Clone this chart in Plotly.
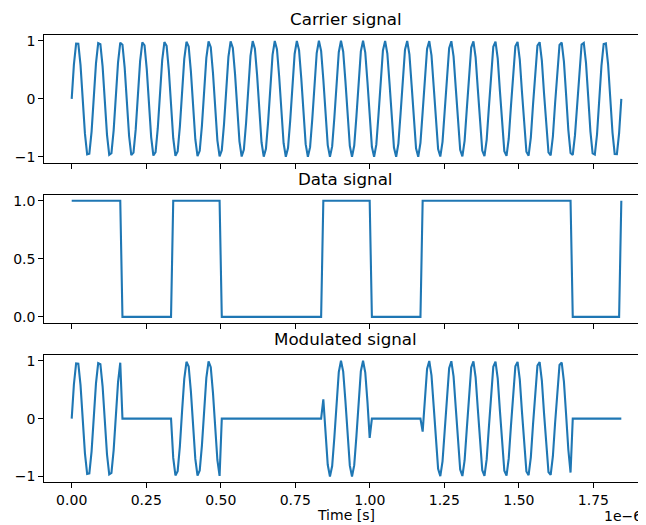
import numpy as np
import plotly.graph_objects as go

# ---------------- data ----------------
t_start = 0.0
t_end = 1.8437e-6
n_samples = 250

panel_titles = ["Carrier signal", "Data signal", "Modulated signal"]

# carrier samples, 10 per row
carrier_rows = [
    [0.000, 0.590, 0.953, 0.949, 0.580, -0.013, -0.600, -0.956, -0.945, -0.569],
    [0.025, 0.610, 0.960, 0.940, 0.559, -0.038, -0.620, -0.963, -0.936, -0.548],
    [0.050, 0.630, 0.967, 0.932, 0.538, -0.063, -0.640, -0.970, -0.927, -0.527],
    [0.076, 0.649, 0.973, 0.922, 0.516, -0.088, -0.659, -0.976, -0.917, -0.506],
    [0.101, 0.668, 0.978, 0.912, 0.495, -0.113, -0.678, -0.981, -0.907, -0.484],
    [0.126, 0.687, 0.983, 0.901, 0.472, -0.138, -0.696, -0.986, -0.896, -0.461],
    [0.151, 0.705, 0.988, 0.890, 0.450, -0.163, -0.714, -0.990, -0.884, -0.439],
    [0.176, 0.723, 0.991, 0.878, 0.427, -0.188, -0.731, -0.993, -0.872, -0.416],
    [0.201, 0.740, 0.994, 0.866, 0.404, -0.213, -0.748, -0.996, -0.860, -0.393],
    [0.225, 0.757, 0.997, 0.853, 0.381, -0.237, -0.765, -0.998, -0.847, -0.370],
    [0.250, 0.773, 0.998, 0.840, 0.358, -0.262, -0.781, -0.999, -0.833, -0.346],
    [0.274, 0.789, 1.000, 0.826, 0.334, -0.286, -0.797, -1.000, -0.819, -0.322],
    [0.298, 0.804, 1.000, 0.812, 0.310, -0.310, -0.812, -1.000, -0.804, -0.298],
    [0.322, 0.819, 1.000, 0.797, 0.286, -0.334, -0.826, -1.000, -0.789, -0.274],
    [0.346, 0.833, 0.999, 0.781, 0.262, -0.358, -0.840, -0.998, -0.773, -0.250],
    [0.370, 0.847, 0.998, 0.765, 0.237, -0.381, -0.853, -0.997, -0.757, -0.225],
    [0.393, 0.860, 0.996, 0.748, 0.213, -0.404, -0.866, -0.994, -0.740, -0.201],
    [0.416, 0.872, 0.993, 0.731, 0.188, -0.427, -0.878, -0.991, -0.723, -0.176],
    [0.439, 0.884, 0.990, 0.714, 0.163, -0.450, -0.890, -0.988, -0.705, -0.151],
    [0.461, 0.896, 0.986, 0.696, 0.138, -0.472, -0.901, -0.983, -0.687, -0.126],
    [0.484, 0.907, 0.981, 0.678, 0.113, -0.495, -0.912, -0.978, -0.668, -0.101],
    [0.506, 0.917, 0.976, 0.659, 0.088, -0.516, -0.922, -0.973, -0.649, -0.076],
    [0.527, 0.927, 0.970, 0.640, 0.063, -0.538, -0.932, -0.967, -0.630, -0.050],
    [0.548, 0.936, 0.963, 0.620, 0.038, -0.559, -0.940, -0.960, -0.610, -0.025],
    [0.569, 0.945, 0.956, 0.600, 0.013, -0.580, -0.949, -0.953, -0.590, 0.000],
]

# data signal samples, 10 per row
data_rows = [
    [1, 1, 1, 1, 1, 1, 1, 1, 1, 1],
    [1, 1, 1, 1, 1, 1, 1, 1, 1, 1],
    [1, 1, 1, 0, 0, 0, 0, 0, 0, 0],
    [0, 0, 0, 0, 0, 0, 0, 0, 0, 0],
    [0, 0, 0, 0, 0, 0, 1, 1, 1, 1],
    [1, 1, 1, 1, 1, 1, 1, 1, 1, 1],
    [1, 1, 1, 1, 1, 1, 1, 1, 0, 0],
    [0, 0, 0, 0, 0, 0, 0, 0, 0, 0],
    [0, 0, 0, 0, 0, 0, 0, 0, 0, 0],
    [0, 0, 0, 0, 0, 0, 0, 0, 0, 0],
    [0, 0, 0, 0, 0, 0, 0, 0, 0, 0],
    [0, 0, 0, 0, 1, 1, 1, 1, 1, 1],
    [1, 1, 1, 1, 1, 1, 1, 1, 1, 1],
    [1, 1, 1, 1, 1, 1, 0, 0, 0, 0],
    [0, 0, 0, 0, 0, 0, 0, 0, 0, 0],
    [0, 0, 0, 0, 0, 0, 0, 0, 0, 1],
    [1, 1, 1, 1, 1, 1, 1, 1, 1, 1],
    [1, 1, 1, 1, 1, 1, 1, 1, 1, 1],
    [1, 1, 1, 1, 1, 1, 1, 1, 1, 1],
    [1, 1, 1, 1, 1, 1, 1, 1, 1, 1],
    [1, 1, 1, 1, 1, 1, 1, 1, 1, 1],
    [1, 1, 1, 1, 1, 1, 1, 1, 1, 1],
    [1, 1, 1, 1, 1, 1, 1, 0, 0, 0],
    [0, 0, 0, 0, 0, 0, 0, 0, 0, 0],
    [0, 0, 0, 0, 0, 0, 0, 0, 0, 1],
]

x_tick_vals = [0.0, 0.25e-6, 0.50e-6, 0.75e-6, 1.00e-6, 1.25e-6, 1.50e-6, 1.75e-6]
x_tick_text = ["0.00", "0.25", "0.50", "0.75", "1.00", "1.25", "1.50", "1.75"]
y_ticks_wave = [-1, 0, 1]
y_ticks_wave_text = ["\u22121", "0", "1"]
y_ticks_data = [0.0, 0.5, 1.0]
y_ticks_data_text = ["0.0", "0.5", "1.0"]

# ---------------- derived ----------------
time = np.linspace(t_start, t_end, n_samples)
carrier = np.array(carrier_rows).ravel()
data = np.array(data_rows).ravel()
modulated = carrier * data

# page body has an 8px margin; the figure is sized so it fills the window
OFF = 8
W, H = 646 - OFF, 525 - OFF
LINE = "#1f77b4"
FONT = "DejaVu Sans"

def px(v):
    return v - OFF

left_px, right_px = px(44.3), float(W)
panels_px = [(px(35.0), px(162.7)), (px(195.0), px(322.7)), (px(355.0), px(482.3))]

def ydom(top, bot):
    return [1 - bot / H, 1 - top / H]

xdom = [left_px / W, right_px / W]
x_range = [-0.0919e-6, 1.9265e-6]

fig = go.Figure()
series = [carrier, data, modulated]
for i, s in enumerate(series):
    fig.add_trace(go.Scatter(
        x=time, y=s, mode="lines",
        line=dict(color=LINE, width=2.1),
        xaxis="x" if i == 0 else f"x{i+1}",
        yaxis="y" if i == 0 else f"y{i+1}",
        showlegend=False, hoverinfo="skip",
    ))

axis_common = dict(
    showline=True, linecolor="black", linewidth=1.1,
    ticks="outside", ticklen=5, tickwidth=1.1, tickcolor="black",
    showgrid=False, zeroline=False,
    tickfont=dict(family=FONT, size=14, color="black"),
)

layout = dict(
    width=W, height=H,
    margin=dict(l=0, r=0, t=0, b=0),
    paper_bgcolor="white", plot_bgcolor="white",
    font=dict(family=FONT, size=14, color="black"),
    showlegend=False,
)

for i in range(3):
    xname = "xaxis" if i == 0 else f"xaxis{i+1}"
    yname = "yaxis" if i == 0 else f"yaxis{i+1}"
    yref = "y" if i == 0 else f"y{i+1}"
    xref = "x" if i == 0 else f"x{i+1}"
    layout[xname] = dict(
        axis_common, domain=xdom, anchor=yref, range=x_range,
        mirror=True, tickvals=x_tick_vals, ticktext=x_tick_text,
        showticklabels=(i == 2), automargin=False,
    )
    if i == 1:
        yr, tv, tt = [-0.05, 1.05], y_ticks_data, y_ticks_data_text
    else:
        yr, tv, tt = [-1.1, 1.1], y_ticks_wave, y_ticks_wave_text
    layout[yname] = dict(
        axis_common, domain=ydom(*panels_px[i]), anchor=xref, range=yr,
        mirror=False, tickvals=tv, ticktext=tt, automargin=False,
    )

fig.update_layout(**layout)

center_x = px((44.3 + 646.7) / 2) / W
annotations = []
for i, title in enumerate(panel_titles):
    top = panels_px[i][0]
    annotations.append(dict(
        text=title, x=center_x, y=1 - top / H, xref="paper", yref="paper",
        xanchor="center", yanchor="bottom", yshift=4, showarrow=False,
        font=dict(family=FONT, size=16.7, color="black"),
    ))
annotations.append(dict(
    text="Time [s]", x=center_x, y=0, xref="paper", yref="paper",
    xanchor="center", yanchor="bottom", yshift=0, showarrow=False,
    font=dict(family=FONT, size=14, color="black"),
))
annotations.append(dict(
    text="1e\u22126", x=px(643.5) / W, y=1 - px(506) / H, xref="paper", yref="paper",
    xanchor="right", yanchor="top", showarrow=False,
    font=dict(family=FONT, size=14, color="black"),
))
fig.update_layout(annotations=annotations)

fig.write_html("out.html")
